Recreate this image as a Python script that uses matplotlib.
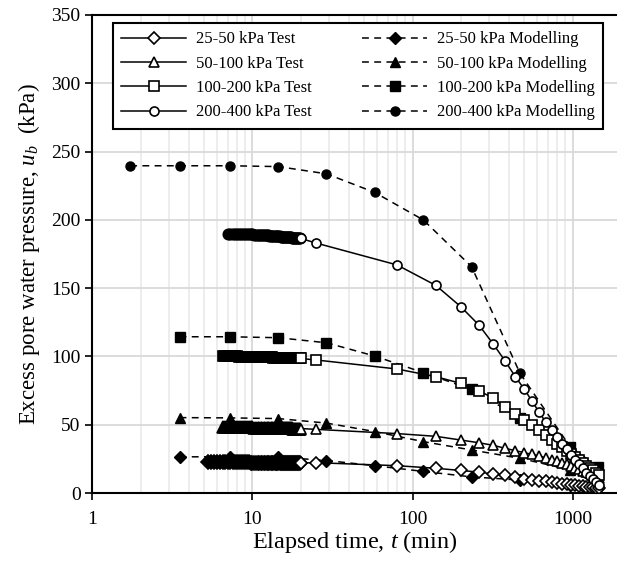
import matplotlib.pyplot as plt
from matplotlib.ticker import LogLocator, NullFormatter

plt.rcParams['font.family'] = 'Liberation Serif'
plt.rcParams['mathtext.fontset'] = 'custom'
plt.rcParams['mathtext.rm'] = 'Liberation Serif'
plt.rcParams['mathtext.it'] = 'Liberation Serif:italic'

# logger readings during the first minutes (min)
blob_t = [5.25, 5.5, 5.75, 6.0, 6.25, 6.5, 6.75, 7.0, 7.25, 7.5,
          7.75, 8.0, 8.25, 8.5, 8.75, 9.0, 9.25, 9.5, 9.75, 10.0,
          10.25, 10.5, 10.75, 11.0, 11.25, 11.5, 11.75, 12.0, 12.25, 12.5,
          12.75, 13.0, 13.25, 13.5, 13.75, 14.0, 14.25, 14.5, 14.75, 15.0,
          15.25, 15.5, 15.75, 16.0, 16.25, 16.5, 16.75, 17.0, 17.25, 17.5,
          17.75, 18.0, 18.25, 18.5, 18.75, 19.0, 19.25, 19.5, 19.75]
# later readings (min)
late_t = [20, 25, 80, 140, 200, 260, 320, 380, 440, 500, 560, 620, 680, 740,
          800, 860, 920, 980, 1040, 1100, 1160, 1220, 1280, 1340, 1400, 1460]

test_25_50_blob = [22.6, 22.6, 22.6, 22.6, 22.6, 22.5, 22.5, 22.5, 22.5, 22.5,
                   22.5, 22.4, 22.4, 22.4, 22.4, 22.4, 22.4, 22.4, 22.3, 22.3,
                   22.3, 22.3, 22.3, 22.3, 22.3, 22.3, 22.2, 22.2, 22.2, 22.2,
                   22.2, 22.2, 22.2, 22.2, 22.2, 22.1, 22.1, 22.1, 22.1, 22.1,
                   22.1, 22.1, 22.1, 22.1, 22.1, 22.1, 22.0, 22.0, 22.0, 22.0,
                   22.0, 22.0, 22.0, 22.0, 22.0, 22.0, 22.0, 22.0, 22.0]
test_25_50_late = [22.0, 22.2, 20.0, 18.1, 16.5, 15.3, 13.9, 12.9, 11.7, 10.6, 9.8, 9.1, 8.5, 7.9,
                   7.4, 6.9, 6.5, 6.1, 5.7, 5.3, 5.0, 4.7, 4.4, 4.1, 3.8, 3.5]

test_50_100_blob = [48.3, 48.3, 48.3, 48.2, 48.2, 48.2, 48.2, 48.1, 48.1, 48.1,
                    48.1, 48.0, 48.0, 48.0, 48.0, 47.9, 47.9, 47.9, 47.9, 47.8,
                    47.8, 47.8, 47.8, 47.7, 47.7, 47.7, 47.7, 47.6, 47.6, 47.6,
                    47.6, 47.5, 47.5, 47.5, 47.5, 47.4, 47.4, 47.4, 47.4, 47.4,
                    47.3, 47.3, 47.3, 47.3, 47.3, 47.3, 47.2, 47.2, 47.2, 47.2,
                    47.2, 47.2, 47.2, 47.2]
test_50_100_late = [47.2, 46.6, 43.5, 41.5, 38.8, 36.8, 34.9, 32.7, 31.0, 29.5, 28.3, 27.0, 25.8, 24.5,
                    23.3, 22.0, 21.0, 19.8, 18.6, 17.5, 16.4, 15.3, 14.3, 13.3, 12.3, 11.3]

test_100_200_blob = [100.2, 100.2, 100.1, 100.1, 100.0, 100.0, 100.0, 99.9, 99.9, 99.9,
                     99.8, 99.8, 99.8, 99.7, 99.7, 99.7, 99.6, 99.6, 99.6, 99.5,
                     99.5, 99.5, 99.4, 99.4, 99.4, 99.3, 99.3, 99.3, 99.2, 99.2,
                     99.2, 99.1, 99.1, 99.1, 99.0, 99.0, 99.0, 98.9, 98.9, 98.9,
                     98.9, 98.8, 98.8, 98.8, 98.8, 98.7, 98.7, 98.7, 98.7, 98.6,
                     98.6, 98.6, 98.6, 98.5]
test_100_200_late = [98.5, 97.4, 90.8, 85.2, 80.3, 75.0, 69.3, 63.2, 58.0, 53.4, 49.5, 46.0, 42.5, 39.0,
                     36.0, 33.5, 31.0, 28.5, 26.0, 24.0, 22.0, 20.0, 18.0, 16.5, 15.0, 13.5]

test_200_400_blob = [190.0, 190.0, 189.9, 189.9, 189.8, 189.8, 189.7, 189.6, 189.6, 189.5,
                     189.4, 189.4, 189.3, 189.2, 189.1, 189.1, 189.0, 188.9, 188.9, 188.8,
                     188.7, 188.6, 188.6, 188.5, 188.4, 188.3, 188.3, 188.2, 188.1, 188.0,
                     188.0, 187.9, 187.8, 187.7, 187.7, 187.6, 187.5, 187.4, 187.4, 187.3,
                     187.2, 187.1, 187.1, 187.0, 186.9, 186.9, 186.8, 186.7, 186.7, 186.6,
                     186.5, 186.5]
test_200_400_late = [186.4, 183.0, 167.0, 152.0, 136.5, 123.0, 109.0, 96.5, 85.0, 76.0, 67.0, 59.0, 52.0, 46.0,
                     41.0, 36.0, 32.0, 28.0, 24.5, 21.0, 18.0, 15.0, 12.5, 10.0, 8.0, 6.0]

# modelling
model_t = [1.72, 3.5, 7.2, 14.5, 29, 58, 117, 234, 470, 964, 1449]
model_25_50 = [26.5, 26.5, 26.3, 23.8, 20.0, 15.8, 11.8, 9.5, 6.0, 3.5]
model_50_100 = [55.2, 55.0, 54.5, 51.2, 45.0, 37.6, 31.5, 25.4, 17.0, 9.0]
model_100_200 = [114.4, 114.4, 113.7, 110.0, 100.3, 88.1, 75.9, 55.1, 34.0, 19.0]
model_200_400 = [239.6, 239.6, 239.6, 239.0, 233.7, 220.1, 199.9, 165.7, 87.6, 34.0, 18.0]

labels = ['25-50 kPa', '50-100 kPa', '100-200 kPa', '200-400 kPa']
markers = ['D', '^', 's', 'o']
sizes = [6, 7.5, 6.5, 6.5]
tests = [(test_25_50_blob, test_25_50_late), (test_50_100_blob, test_50_100_late),
         (test_100_200_blob, test_100_200_late), (test_200_400_blob, test_200_400_late)]
models = [model_25_50, model_50_100, model_100_200, model_200_400]

fig = plt.figure(figsize=(6.17, 5.61), dpi=100)
ax = fig.add_axes([0.1499, 0.1212, 0.8501, 0.8521])

dash = (0, (4.5, 3.5))
test_handles, model_handles = [], []
for lab, mk, ms, vals in zip(labels, markers, sizes, models):
    h, = ax.plot(model_t[-len(vals):], vals, linestyle=dash, color='black', lw=1.1,
                 marker=mk, ms=ms, mfc='black', mec='black', mew=1.0,
                 label=lab + ' Modelling', zorder=3)
    model_handles.append(h)
for lab, mk, ms, (blob, late) in zip(labels, markers, sizes, tests):
    bt = blob_t[-len(blob):]
    # dense logger readings overlap into a solid band
    ax.plot(bt, blob, linestyle='none', marker=mk, ms=ms + 1, mfc='black',
            mec='black', mew=1.2, zorder=3.9)
    h, = ax.plot(bt + late_t, blob + late, linestyle='-', color='black', lw=1.1,
                 marker=mk, ms=ms, mfc='white', mec='black', mew=1.2,
                 markevery=slice(len(blob), None),
                 label=lab + ' Test', zorder=4)
    test_handles.append(h)

ax.set_xscale('log')
ax.set_xlim(1, 1897)
ax.set_ylim(0, 350)
ax.set_xticks([1, 10, 100, 1000], labels=['1', '10', '100', '1000'])
ax.xaxis.set_minor_locator(LogLocator(base=10, subs=range(2, 10), numticks=20))
ax.xaxis.set_minor_formatter(NullFormatter())
ax.set_yticks(range(0, 351, 50))

ax.grid(True, which='major', axis='x', color='#d9d9d9', lw=1.3)
ax.grid(True, which='minor', axis='x', color='#ececec', lw=1.3)
ax.grid(True, which='major', axis='y', color='#d9d9d9', lw=1.3)
ax.set_axisbelow(True)

ax.tick_params(axis='both', which='major', direction='out', length=5, width=1.2,
               labelsize=14, color='black')
ax.tick_params(axis='x', which='minor', length=0)
ax.tick_params(axis='x', pad=8)
for side in ['left', 'bottom', 'top']:
    ax.spines[side].set_linewidth(1.5)
    ax.spines[side].set_color('black')
ax.spines['right'].set_visible(False)

ax.set_xlabel('Elapsed time, $t$ (min)', fontsize=17.5, labelpad=1)
ax.set_ylabel('Excess pore water pressure, $u_b$  (kPa)', fontsize=16.5, labelpad=7)

leg = ax.legend(handles=test_handles + model_handles, ncol=2, loc='upper left',
                bbox_to_anchor=(0.039, 0.983), borderaxespad=0, fontsize=12,
                handlelength=3.9, handletextpad=0.6, columnspacing=3.0,
                labelspacing=0.5, numpoints=1, fancybox=False, framealpha=1,
                borderpad=0.5)
leg.get_frame().set_edgecolor('black')
leg.get_frame().set_linewidth(1.5)

fig.savefig('out.png', dpi=100)
